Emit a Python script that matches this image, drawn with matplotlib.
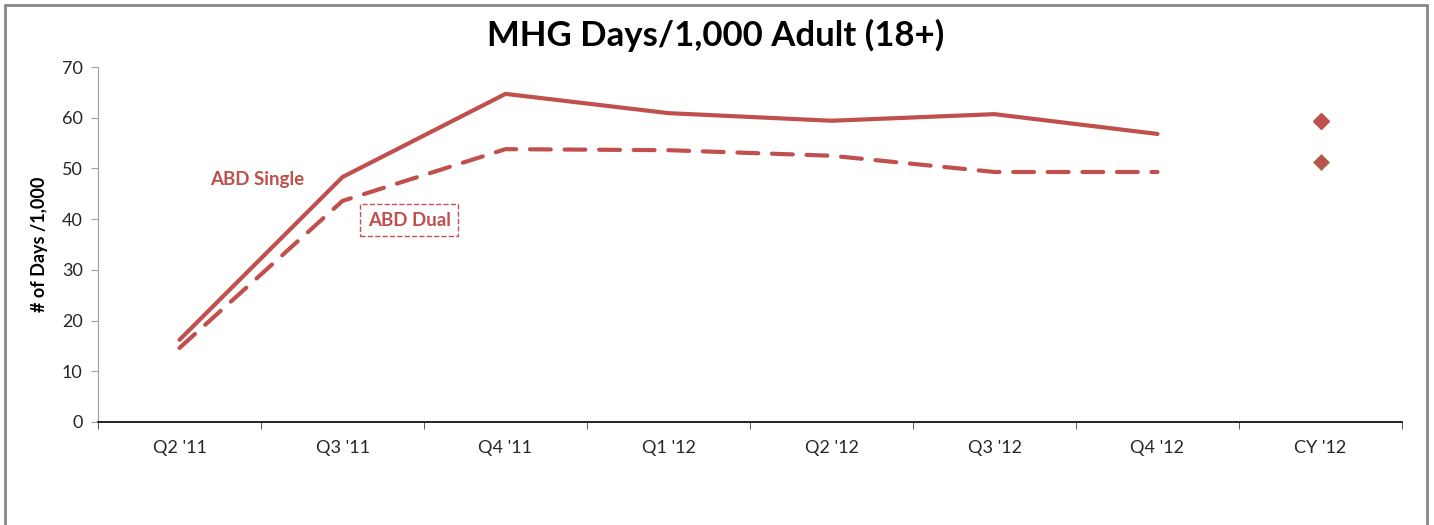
import matplotlib.pyplot as plt
from matplotlib.patches import Rectangle

categories = ["Q2 '11", "Q3 '11", "Q4 '11", "Q1 '12", "Q2 '12", "Q3 '12", "Q4 '12", "CY '12"]
abd_single = [16.2, 48.3, 64.7, 60.9, 59.4, 60.7, 56.8]
abd_dual = [14.6, 43.6, 53.8, 53.6, 52.5, 49.3, 49.3]
cy_single = 59.4
cy_dual = 51.3

red = '#C0504D'
plt.rcParams['font.family'] = ['Lato', 'DejaVu Sans']

fig = plt.figure(figsize=(14.34, 5.25), dpi=100)
fig.patches.append(Rectangle((5 / 1434, -0.01), 1422 / 1434, 1 - 5 / 525 + 0.01,
                             transform=fig.transFigure, fill=False,
                             edgecolor='#868686', linewidth=2))
ax = fig.add_axes([98 / 1434, 1 - 422 / 525, (1402 - 98) / 1434, (422 - 67) / 525])

x = list(range(len(abd_single)))
ax.plot(x, abd_single, color=red, linewidth=3, solid_capstyle='round')
ax.plot(x, abd_dual, color=red, linewidth=3, linestyle=(0, (5, 3.3)), dash_capstyle='round')
ax.plot([7], [cy_single], marker='D', markersize=8, color=red, linestyle='none')
ax.plot([7], [cy_dual], marker='D', markersize=8, color=red, markeredgecolor='#8a8a4a',
        markeredgewidth=0.6, linestyle='none')

ax.set_xlim(-0.5, 7.5)
ax.set_ylim(0, 70)
ax.set_yticks(range(0, 71, 10))
ax.set_xticks(range(len(categories)))
ax.set_xticklabels(categories)
ax.set_xticks([i - 0.5 for i in range(len(categories) + 1)], minor=True)
ax.tick_params(axis='x', which='major', length=0, pad=13, labelsize=13, labelcolor='#262626')
ax.tick_params(axis='x', which='minor', length=5, color='#404040')
ax.tick_params(axis='y', length=5, color='#a0a0a0', labelsize=13, labelcolor='#262626', pad=6)

for s in ['top', 'right']:
    ax.spines[s].set_visible(False)
ax.spines['left'].set_color('#a0a0a0')
ax.spines['bottom'].set_color('black')
ax.spines['bottom'].set_linewidth(1.2)

ax.set_ylabel('# of Days /1,000', fontsize=13, fontweight='bold', labelpad=10)
fig.text(716 / 1434, 1 - 35 / 525, 'MHG Days/1,000 Adult (18+)', ha='center', va='center',
         fontsize=25, fontweight='bold')

ax.text(0.19, 47.8, 'ABD Single', color=red, fontsize=13.5, fontweight='bold', ha='left', va='center')
ax.text(1.41, 39.8, 'ABD Dual', color=red, fontsize=13.5, fontweight='bold', ha='center', va='center',
        bbox=dict(boxstyle='square,pad=0.4', facecolor='none', edgecolor=red,
                  linestyle='--', linewidth=1))

fig.savefig('out.png', dpi=100)
